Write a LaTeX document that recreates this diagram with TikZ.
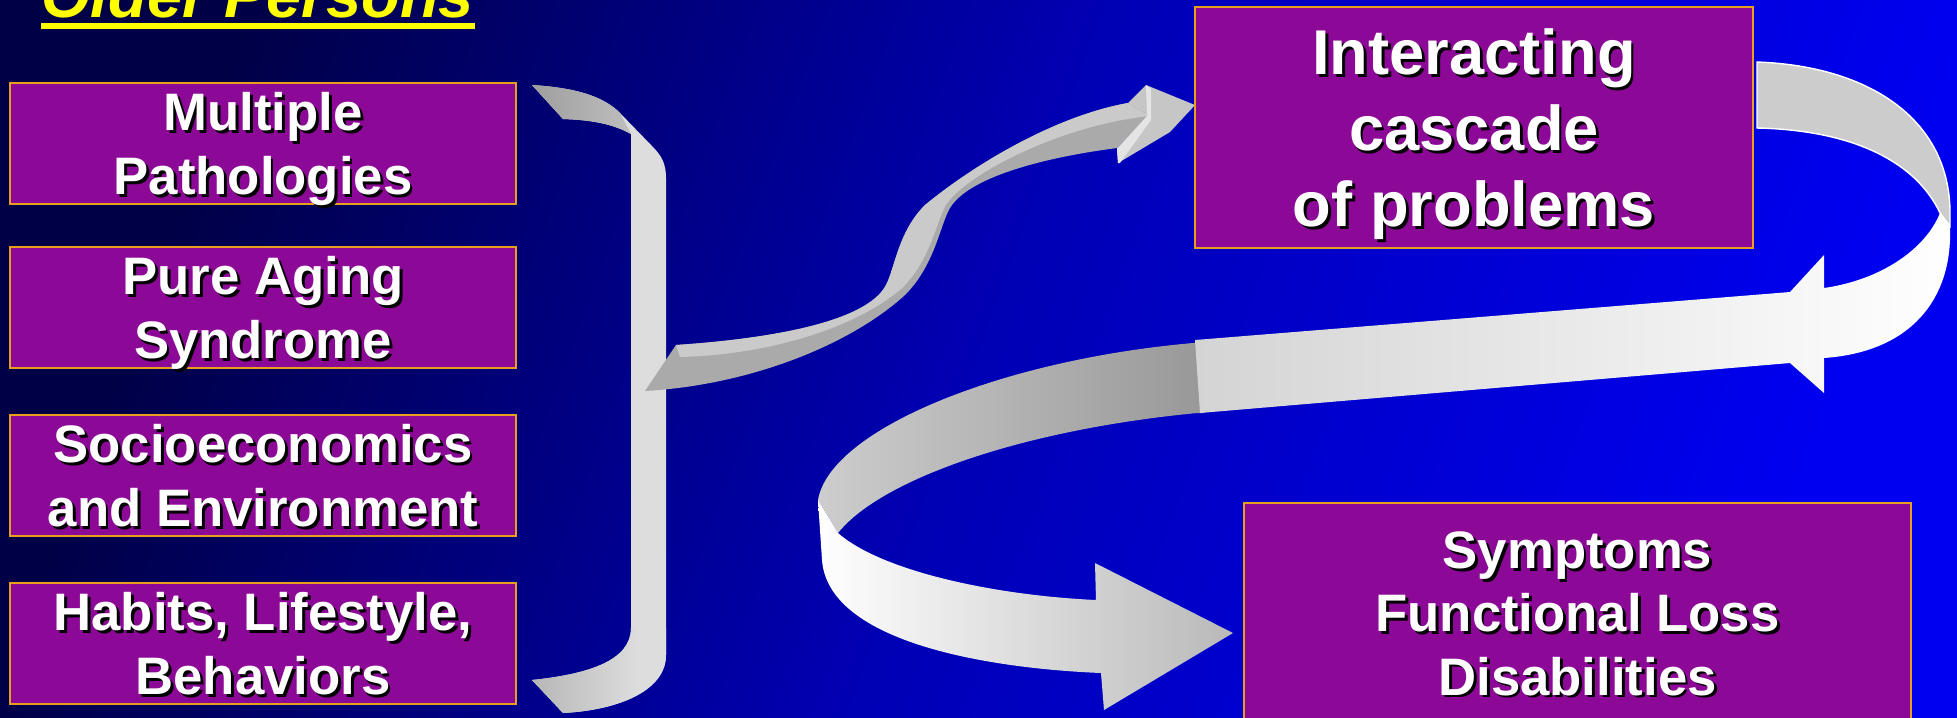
\documentclass[tikz,border=0pt]{standalone}
\usepackage{fontspec}
\setmainfont{Liberation Sans}
\usetikzlibrary{calc}
\definecolor{bgl}{RGB}{0,0,70}
\definecolor{bgm}{RGB}{0,0,180}
\definecolor{bgr}{RGB}{0,0,240}
\definecolor{plum}{RGB}{140,8,150}
\definecolor{rim}{RGB}{230,160,30}
\definecolor{ttlc}{RGB}{255,255,0}
\definecolor{barc}{RGB}{221,221,221}
\definecolor{flg}{RGB}{158,158,158}
\definecolor{flgr}{RGB}{190,190,190}
\definecolor{sdk}{RGB}{170,170,170}
\definecolor{slt}{RGB}{202,202,202}
\definecolor{hdc}{RGB}{198,198,198}
\definecolor{bvl}{RGB}{228,228,228}
\definecolor{lpg}{RGB}{204,204,204}
\definecolor{gryl}{RGB}{205,205,205}
\definecolor{gryr}{RGB}{152,152,152}
\definecolor{bnd}{RGB}{212,212,212}
\definecolor{tipc}{RGB}{185,185,185}
\pgfdeclarehorizontalshading{flangebot}{100bp}{color(0bp)=(flg); color(65bp)=(barc); color(100bp)=(barc)}
\newcommand\shd[1]{\raisebox{0pt}[\height][0pt]{\rlap{\kern0.8pt\raisebox{-0.8pt}{\color{black}#1}}#1}}
\tikzset{fac/.style={draw=rim, line width=0.6pt, fill=plum, text=white, align=center,
    minimum width=50.6mm, minimum height=12.1mm, inner sep=0pt, font=\fontsize{15}{18}\selectfont\bfseries},
  big/.style={fac, font=\fontsize{18}{21.6}\selectfont\bfseries}}

\begin{document}
\begin{tikzpicture}[x=0.1mm, y=-0.1mm]
  \clip (0,0) rectangle (1957,717);
  \shade[left color=bgl, right color=bgr, middle color=bgm, shading angle=70] (0,0) rectangle (1957,717);
  % title
  \node[text=ttlc, font=\fontsize{18}{20}\selectfont\bfseries\itshape, inner sep=0pt, anchor=base west] (ttl) at (41,17) {Older Persons};
  \draw[ttlc, line width=1.7pt] ($(ttl.base west)+(0,9)$) -- ($(ttl.base east)+(0,9)$);
  % bracket
  \fill[barc] (532,85) .. controls (580,88) and (605,98) .. (620,113) -- (652,146) .. controls (662,156) and (666,164) .. (666,178)
    -- (666,655) .. controls (666,690) and (620,710) .. (563,713) -- (532,680) .. controls (590,674) and (631,660) .. (631,628)
    -- (631,134) .. controls (615,125) and (595,120) .. (563,119) -- cycle;
  \shade[left color=flg, right color=flgr] (532,85) .. controls (580,88) and (605,98) .. (620,113) -- (631,134) .. controls (615,125) and (595,120) .. (563,119) -- cycle;
  \shade[shading=flangebot] (532,680) .. controls (590,674) and (631,660) .. (631,628) -- (666,628) -- (666,655) .. controls (666,690) and (620,710) .. (563,713) -- cycle;
  % branch to the cascade
  \fill[sdk] (645,391) -- (676,345) .. controls (780,338) and (868,320) .. (886,285) .. controls (895,268) and (898,232) .. (925,205)
    .. controls (980,160) and (1060,115) .. (1128,103) -- (1150,116) -- (1117,148)
    .. controls (1040,158) and (968,178) .. (950,208) .. controls (940,225) and (935,265) .. (905,295)
    .. controls (850,345) and (750,385) .. (645,391) -- cycle;
  \fill[slt] (676,345) .. controls (780,338) and (868,320) .. (886,285) .. controls (895,268) and (898,232) .. (925,205)
    .. controls (980,160) and (1060,115) .. (1128,103) -- (1150,116) .. controls (1060,125) and (965,175) .. (946,205)
    .. controls (936,222) and (930,262) .. (901,289) .. controls (850,332) and (760,355) .. (680,357) -- cycle;
  \fill[hdc] (1128,103) -- (1146,85) -- (1195,105) -- (1170,132) -- (1118,163) -- (1117,148) -- (1150,116) -- cycle;
  \fill[bvl] (1146,85) -- (1151,89) -- (1151,120) -- (1120,163) -- (1118,163) -- (1117,149) -- (1147,116) -- cycle;
  % loop from the cascade down to the outcome
  \shade[left color=gryl, right color=gryr] (1204,413) -- (1200,342) -- (1193,343) .. controls (1000,360) and (830,430) .. (818,500)
    -- (838,533) .. controls (880,480) and (1020,430) .. (1197,413) -- cycle;
  \shade[left color=white, right color=tipc] (818,500) -- (822,560) .. controls (828,640) and (980,668) .. (1101,673)
    -- (1104,710) -- (1233,633) -- (1095,563) -- (1096,600) .. controls (990,595) and (880,570) .. (838,533) -- cycle;
  \shade[left color=bnd, right color=white] (1940,213) -- (1950,226) .. controls (1953,300) and (1910,352) .. (1824,358)
    -- (1824,393) -- (1790,363) -- (1200,413) -- (1195,340) -- (1790,292) -- (1824,255) -- (1824,288)
    .. controls (1880,280) and (1925,250) .. (1940,213) -- cycle;
  \filldraw[fill=lpg, draw=white, line width=0.4pt] (1757,62) .. controls (1870,66) and (1950,120) .. (1950,213) -- (1950,226)
    -- (1940,213) .. controls (1915,160) and (1850,130) .. (1757,128) -- cycle;
  % boxes
  \node[fac] (path) at (263,143.5) {\shd{Multiple}\\\shd{Pathologies}};
  \node[fac] (aging) at (263,307.5) {\shd{Pure Aging}\\\shd{Syndrome}};
  \node[fac] (socio) at (263,475.5) {\shd{Socioeconomics}\\\shd{and Environment}};
  \node[fac] (habit) at (263,643.5) {\shd{Habits, Lifestyle,}\\\shd{Behaviors}};
  \node[big, minimum width=55.8mm, minimum height=24.1mm] (cas) at (1474,127.5) {\shd{Interacting}\\\shd{cascade}\\\shd{of problems}};
  \node[fac, minimum width=66.7mm, minimum height=22.1mm] (sym) at (1577.5,613.5) {\shd{Symptoms}\\\shd{Functional Loss}\\\shd{Disabilities}};
\end{tikzpicture}
\end{document}
